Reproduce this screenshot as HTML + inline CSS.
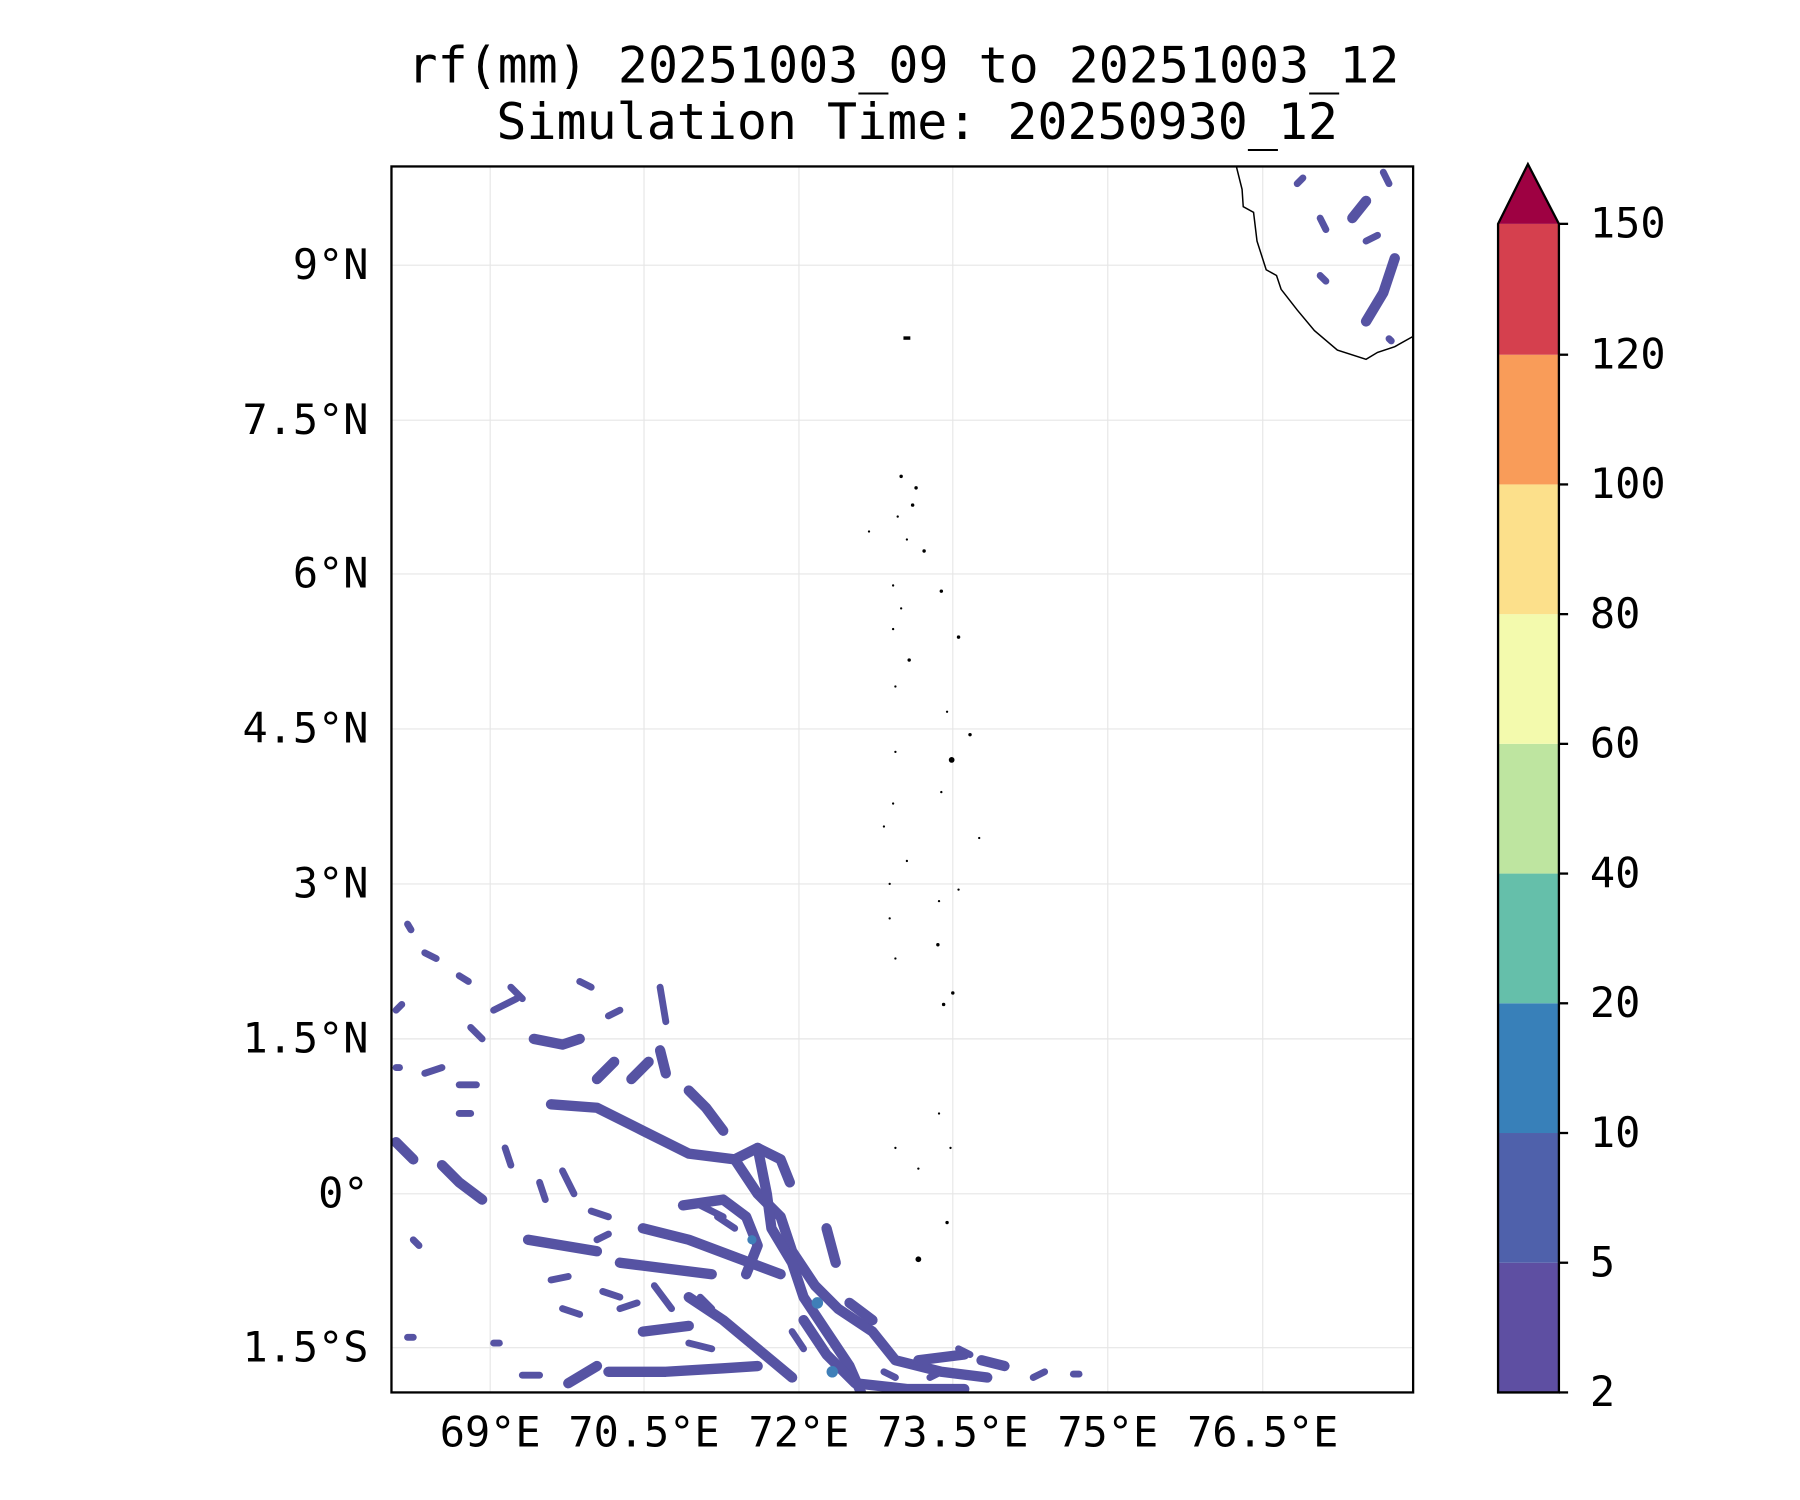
<!DOCTYPE html>
<html><head><style>
html,body{margin:0;padding:0;background:#fff;}
svg{display:block;}
text{font-family:"DejaVu Sans Mono","Liberation Mono",monospace;fill:#000;}
</style></head><body>
<svg width="1800" height="1500" viewBox="0 0 1568 1306.7" xmlns="http://www.w3.org/2000/svg">
<text x="787" y="72" font-size="43.5" text-anchor="middle">rf(mm) 20251003_09 to 20251003_12</text>
<text x="799" y="121" font-size="43.5" text-anchor="middle">Simulation Time: 20250930_12</text>
<g stroke="#e6e6e6" stroke-width="1">
<line x1="427" y1="145" x2="427" y2="1213"/><line x1="561" y1="145" x2="561" y2="1213"/>
<line x1="696" y1="145" x2="696" y2="1213"/><line x1="830" y1="145" x2="830" y2="1213"/>
<line x1="965" y1="145" x2="965" y2="1213"/><line x1="1100" y1="145" x2="1100" y2="1213"/>
<line x1="341" y1="231" x2="1231" y2="231"/><line x1="341" y1="366" x2="1231" y2="366"/>
<line x1="341" y1="500" x2="1231" y2="500"/><line x1="341" y1="635" x2="1231" y2="635"/>
<line x1="341" y1="770" x2="1231" y2="770"/><line x1="341" y1="905" x2="1231" y2="905"/>
<line x1="341" y1="1040" x2="1231" y2="1040"/><line x1="341" y1="1174" x2="1231" y2="1174"/>
</g>
<clipPath id="c"><rect x="341" y="145" width="890" height="1068"/></clipPath>
<g clip-path="url(#c)" fill="none" stroke="#5653a3" stroke-linecap="round" stroke-linejoin="round">
<g stroke-width="9">
<path d="M480 962 L520 965 L560 985 L600 1005 L640 1010 L660 1000 L680 1010 L688 1030"/>
<path d="M600 950 L615 965 L630 985"/>
<path d="M640 1010 L660 1040 L680 1060 L690 1090 L710 1120 L730 1140 L760 1160 L780 1185 L820 1195 L860 1200"/>
<path d="M660 1000 L668 1040 L672 1070 L690 1100 L700 1130 L720 1160 L740 1190 L750 1213"/>
<path d="M700 1150 L720 1180 L745 1205 L790 1210 L840 1210"/>
<path d="M595 1050 L630 1045 L650 1060 L660 1085 L650 1110"/>
<path d="M540 1100 L580 1105 L620 1110"/>
<path d="M560 1070 L600 1080 L640 1095 L680 1110"/>
<path d="M600 1130 L630 1150 L660 1175 L690 1200"/>
<path d="M530 1195 L580 1195 L630 1192 L660 1190"/>
<path d="M495 1205 L520 1190"/>
<path d="M560 1160 L600 1155"/>
<path d="M460 1080 L490 1085 L520 1090"/>
<path d="M385 1015 L400 1030 L420 1045"/>
<path d="M345 995 L360 1010"/>
<path d="M465 905 L490 910 L505 905"/>
<path d="M520 940 L535 925"/>
<path d="M550 940 L565 925"/>
<path d="M575 915 L580 935"/>
<path d="M720 1070 L728 1100"/>
<path d="M740 1135 L760 1150"/>
<path d="M800 1185 L840 1180"/>
<path d="M855 1185 L875 1190"/>
<path d="M1190 280 L1205 255 L1215 225"/>
<path d="M1178 190 L1190 175"/>
</g>
<g stroke-width="6">
<path d="M400 850 L408 855"/><path d="M445 860 L455 870"/><path d="M430 880 L450 870"/>
<path d="M505 855 L515 860"/><path d="M530 885 L540 880"/><path d="M575 860 L580 890"/>
<path d="M410 895 L420 905"/><path d="M400 945 L415 945"/><path d="M370 935 L385 930"/>
<path d="M400 970 L410 970"/><path d="M345 930 L348 930"/><path d="M440 1000 L445 1015"/>
<path d="M470 1030 L475 1045"/><path d="M490 1020 L500 1040"/><path d="M515 1055 L530 1060"/>
<path d="M480 1115 L495 1112"/><path d="M525 1125 L540 1130"/><path d="M570 1120 L585 1140"/>
<path d="M490 1140 L505 1145"/><path d="M540 1140 L555 1135"/><path d="M600 1170 L620 1175"/>
<path d="M610 1050 L630 1060"/><path d="M690 1160 L700 1175"/><path d="M835 1175 L845 1180"/>
<path d="M900 1200 L910 1195"/><path d="M935 1197 L940 1197"/><path d="M355 1165 L360 1165"/>
<path d="M430 1170 L435 1170"/><path d="M455 1198 L470 1198"/><path d="M345 880 L350 875"/>
<path d="M355 805 L358 810"/><path d="M370 830 L380 835"/><path d="M360 1080 L365 1085"/>
<path d="M1150 240 L1155 245"/><path d="M1130 160 L1135 155"/><path d="M1150 190 L1155 200"/>
<path d="M1190 210 L1200 205"/><path d="M1205 150 L1210 160"/><path d="M1210 295 L1212 297"/>
<path d="M625 1060 L640 1070"/><path d="M520 1080 L530 1075"/><path d="M610 1130 L620 1140"/>
<path d="M770 1195 L780 1200"/><path d="M810 1200 L820 1195"/>
</g>
</g>
<g fill="#3f7fb8"><circle cx="712" cy="1135" r="5"/><circle cx="655" cy="1080" r="4"/><circle cx="725" cy="1195" r="5"/></g>
<path d="M1077 145 L1082 165 L1083 180 L1092 185 L1095 210 L1103 235 L1112 240 L1116 252 L1130 270 L1145 288 L1165 305 L1190 313 L1200 307 L1215 302 L1231 293" fill="none" stroke="#000" stroke-width="1.3"/>
<g fill="#000">
<rect x="787" y="293" width="6" height="3"/>
<circle cx="785" cy="415" r="1.5"/><circle cx="798" cy="425" r="1.5"/><circle cx="795" cy="440" r="1.5"/><circle cx="782" cy="450" r="1"/><circle cx="790" cy="470" r="1"/><circle cx="805" cy="480" r="1.5"/><circle cx="778" cy="510" r="1"/><circle cx="785" cy="530" r="1"/><circle cx="820" cy="515" r="1.5"/><circle cx="778" cy="548" r="1"/><circle cx="835" cy="555" r="1.5"/><circle cx="792" cy="575" r="1.5"/><circle cx="780" cy="598" r="1"/><circle cx="825" cy="620" r="1"/><circle cx="845" cy="640" r="1.5"/><circle cx="780" cy="655" r="1"/><circle cx="829" cy="662" r="2.5"/><circle cx="820" cy="690" r="1"/><circle cx="778" cy="700" r="1"/><circle cx="770" cy="720" r="1"/><circle cx="790" cy="750" r="1"/><circle cx="775" cy="770" r="1"/><circle cx="835" cy="775" r="1"/><circle cx="818" cy="785" r="1"/><circle cx="775" cy="800" r="1"/><circle cx="817" cy="823" r="1.5"/><circle cx="780" cy="835" r="1"/><circle cx="830" cy="865" r="1.5"/><circle cx="822" cy="875" r="1.5"/><circle cx="818" cy="970" r="1"/><circle cx="780" cy="1000" r="1"/><circle cx="800" cy="1018" r="1"/><circle cx="828" cy="1000" r="1"/><circle cx="825" cy="1065" r="1.5"/><circle cx="800" cy="1097" r="2.5"/><circle cx="757" cy="463" r="1"/><circle cx="853" cy="730" r="1"/>
</g>
<rect x="341" y="145" width="890" height="1068" fill="none" stroke="#000" stroke-width="2"/>
<g font-size="36.5" text-anchor="end">
<text x="321" y="243">9°N</text><text x="321" y="378">7.5°N</text><text x="321" y="512">6°N</text>
<text x="321" y="647">4.5°N</text><text x="321" y="782">3°N</text><text x="321" y="917">1.5°N</text>
<text x="321" y="1052">0°</text><text x="321" y="1186">1.5°S</text>
</g>
<g font-size="36.5" text-anchor="middle">
<text x="427" y="1260">69°E</text><text x="561" y="1260">70.5°E</text><text x="696" y="1260">72°E</text>
<text x="830" y="1260">73.5°E</text><text x="965" y="1260">75°E</text><text x="1100" y="1260">76.5°E</text>
</g>
<g>
<rect x="1305" y="1100" width="53" height="113" fill="#5e4fa2"/>
<rect x="1305" y="987" width="53" height="113" fill="#4f61ab"/>
<rect x="1305" y="874" width="53" height="113" fill="#3880b9"/>
<rect x="1305" y="761" width="53" height="113" fill="#65bfaa"/>
<rect x="1305" y="648" width="53" height="113" fill="#bee5a0"/>
<rect x="1305" y="535" width="53" height="113" fill="#f3faad"/>
<rect x="1305" y="422" width="53" height="113" fill="#fce08b"/>
<rect x="1305" y="309" width="53" height="113" fill="#f99c59"/>
<rect x="1305" y="195" width="53" height="114" fill="#d5404e"/>
<path d="M1305 195 L1331 143 L1358 195 Z" fill="#9e0142"/>
<path d="M1305 1213 L1305 195 L1331 143 L1358 195 L1358 1213 Z" fill="none" stroke="#000" stroke-width="2"/>
</g>
<g stroke="#000" stroke-width="2">
<line x1="1358" y1="195" x2="1366" y2="195"/><line x1="1358" y1="309" x2="1366" y2="309"/><line x1="1358" y1="422" x2="1366" y2="422"/><line x1="1358" y1="535" x2="1366" y2="535"/><line x1="1358" y1="648" x2="1366" y2="648"/><line x1="1358" y1="761" x2="1366" y2="761"/><line x1="1358" y1="874" x2="1366" y2="874"/><line x1="1358" y1="987" x2="1366" y2="987"/><line x1="1358" y1="1100" x2="1366" y2="1100"/><line x1="1358" y1="1213" x2="1366" y2="1213"/>
</g>
<g font-size="36.5">
<text x="1385" y="207">150</text><text x="1385" y="321">120</text><text x="1385" y="434">100</text><text x="1385" y="547">80</text><text x="1385" y="660">60</text><text x="1385" y="773">40</text><text x="1385" y="886">20</text><text x="1385" y="999">10</text><text x="1385" y="1112">5</text><text x="1385" y="1225">2</text>
</g>
</svg>
</body></html>
